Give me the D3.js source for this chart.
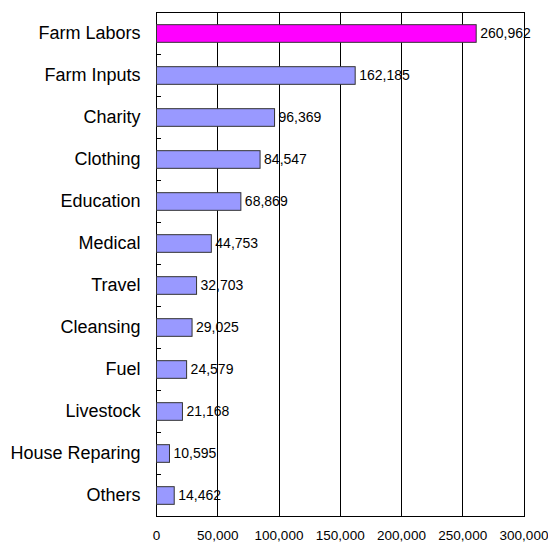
<!DOCTYPE html>
<html>
<head>
<meta charset="utf-8">
<script src="https://cdn.jsdelivr.net/npm/d3@7"></script>
<style>
  html, body { margin: 0; padding: 0; background: #fff; }
  svg { display: block; font-family: Arial, "Liberation Sans", sans-serif; }
</style>
</head>
<body>
<svg id="chart" width="548" height="544"></svg>
<script>
// Expenditure categories, top to bottom
const categories = ["Farm Labors", "Farm Inputs", "Charity", "Clothing", "Education", "Medical",
  "Travel", "Cleansing", "Fuel", "Livestock", "House Reparing", "Others"];
const values = [260962, 162185, 96369, 84547, 68869, 44753, 32703, 29025, 24579, 21168, 10595, 14462];
const xTicks = [0, 50000, 100000, 150000, 200000, 250000, 300000];
const highlight = "Farm Labors";

const margin = { top: 12, left: 156 };
const innerW = 523.5 - margin.left;
const innerH = 516 - margin.top;

const svg = d3.select("#chart");
const g = svg.append("g").attr("transform", `translate(${margin.left},${margin.top})`);

const x = d3.scaleLinear().domain([0, 300000]).range([0, innerW]);
const y = d3.scaleBand().domain(categories).range([0, innerH]).paddingInner(0.58).paddingOuter(0.29);
const fmt = d3.format(",");

// Vertical gridlines
g.selectAll("line.grid").data(xTicks.slice(1)).join("line")
  .attr("class", "grid")
  .attr("x1", d => Math.round(x(d)) + 0.5).attr("x2", d => Math.round(x(d)) + 0.5)
  .attr("y1", 0).attr("y2", innerH)
  .attr("stroke", "#000").attr("stroke-width", 1);

// Plot frame
g.append("rect")
  .attr("x", 0.5).attr("y", 0.5)
  .attr("width", Math.round(innerW)).attr("height", innerH)
  .attr("fill", "none").attr("stroke", "#000").attr("stroke-width", 1);

// Bars
g.selectAll("rect.bar").data(categories).join("rect")
  .attr("class", "bar")
  .attr("x", 0.5)
  .attr("y", d => y(d) + 0.5)
  .attr("width", (d, i) => x(values[i]))
  .attr("height", y.bandwidth())
  .attr("fill", d => d === highlight ? "#FF00FF" : "#9999FF")
  .attr("stroke", "#333").attr("stroke-width", 1);

// Value labels
g.selectAll("text.val").data(categories).join("text")
  .attr("class", "val")
  .attr("x", (d, i) => x(values[i]) + 4.5)
  .attr("y", d => y(d) + y.bandwidth() / 2)
  .attr("dy", "0.36em")
  .attr("font-size", 14)
  .attr("fill", "#000")
  .text((d, i) => fmt(values[i]));

// Left axis: category labels and inward ticks at band boundaries
const yAxis = d3.axisLeft(y).tickSize(0).tickPadding(15.5);
const ya = g.append("g").call(yAxis);
ya.select(".domain").remove();
ya.selectAll("text").attr("font-size", 18).attr("fill", "#000")
  .attr("font-family", "Arial, 'Liberation Sans', sans-serif");

const step = y.step();
g.selectAll("line.ytick").data(d3.range(1, categories.length)).join("line")
  .attr("class", "ytick")
  .attr("x1", 0).attr("x2", 5)
  .attr("y1", d => Math.round(d * step) + 0.5).attr("y2", d => Math.round(d * step) + 0.5)
  .attr("stroke", "#000");

// Bottom axis labels
const xAxis = d3.axisBottom(x).tickValues(xTicks).tickSize(0).tickPadding(14.5).tickFormat(fmt);
const xa = g.append("g").attr("transform", `translate(0,${innerH})`).call(xAxis);
xa.select(".domain").remove();
xa.selectAll("text").attr("font-size", 13.5).attr("fill", "#000")
  .attr("font-family", "Arial, 'Liberation Sans', sans-serif");
</script>
</body>
</html>
